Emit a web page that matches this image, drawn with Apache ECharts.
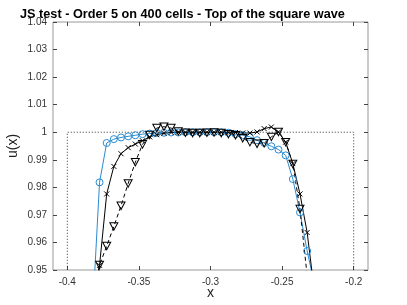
<!DOCTYPE html>
<html><head><meta charset="utf-8">
<script src="https://cdn.jsdelivr.net/npm/echarts@6/dist/echarts.min.js"></script>
<style>html,body{margin:0;padding:0;background:#fff}#c{width:407px;height:305px}</style>
</head><body><div id="c"></div>
<script>
var xs = [-0.3825,-0.3775,-0.3725,-0.3675,-0.3625,-0.3575,-0.3525,-0.3475,-0.3425,-0.3375,-0.3325,-0.3275,-0.3225,-0.3175,-0.3125,-0.3075,-0.3025,-0.2975,-0.2925,-0.2875,-0.2825,-0.2775,-0.2725,-0.2675,-0.2625,-0.2575,-0.2525,-0.2475,-0.2425,-0.2375,-0.2325,-0.2275,-0.2225];
var uCircle = [0.933,0.9818,0.9961,0.9975,0.9981,0.9985,0.9989,0.9993,0.9995,0.9997,0.9998,0.9999,0.9999,1.0,1.0,1.0,1.0,1.0,1.0,0.9998,0.9993,0.9989,0.9983,0.9971,0.9961,0.9949,0.9937,0.9916,0.983,0.9709,0.9569,0.945,0.93];
var uCross = [0.925,0.9517,0.9776,0.9876,0.9922,0.9944,0.9957,0.9969,0.9983,0.9991,0.9996,0.9999,1.0,1.0,1.0,1.0,1.0,1.0,1.0,1.0,0.9999,0.9997,0.9997,1.0001,1.0013,1.0019,1.0001,0.9964,0.9886,0.9776,0.9636,0.9425,0.92];
var uTri = [0.94,0.9518,0.9587,0.9658,0.9733,0.9814,0.9891,0.9956,0.9990,1.0015,1.0020,1.0015,1.0003,0.9998,0.9997,0.9997,0.9998,0.9999,0.9997,0.9993,0.9989,0.9978,0.9964,0.9958,0.9960,0.9983,1.0001,0.9964,0.9885,0.9721,0.948,0.92,0.90];
var exactX = [-0.4,-0.4,-0.2,-0.2];
var exactU = [0.9,1.0,1.0,0.9];
var xTicks = [-0.4,-0.35,-0.3,-0.25,-0.2];
var yTicks = [0.95,0.96,0.97,0.98,0.99,1.0,1.01,1.02,1.03,1.04];

function pairs(a,b){return a.map(function(v,i){return [v,b[i]];});}
var fnt = 'Liberation Sans, Arial, sans-serif';
var tickStyle = {show:true, inside:true, length:4, lineStyle:{color:'#444', width:1}};
function xAx(pos, labels){
  return {type:'value', position:pos, min:-0.41, max:-0.19,
    axisLine:{show:false}, splitLine:{show:false},
    axisTick:Object.assign({customValues:xTicks}, tickStyle),
    axisLabel:{show:labels, customValues:xTicks, margin:7, color:'#333', fontFamily:fnt, fontSize:10,
      formatter:function(v){return String(+v.toFixed(2));}},
    name: labels ? 'x' : '', nameLocation:'middle', nameGap:16, nameMoveOverlap:false,
    nameTextStyle:{color:'#222', fontFamily:fnt, fontSize:14}
  };
}
function yAx(pos, labels){
  return {type:'value', position:pos, min:0.95, max:1.04,
    axisLine:{show:false}, splitLine:{show:false},
    axisTick:Object.assign({customValues:yTicks}, tickStyle),
    axisLabel:{show:labels, customValues:yTicks, margin:6, color:'#333', fontFamily:fnt, fontSize:10,
      formatter:function(v){return String(+v.toFixed(2));}},
    name: labels ? 'u(x)' : '', nameLocation:'middle', nameGap:33, nameMoveOverlap:false,
    nameTextStyle:{color:'#222', fontFamily:fnt, fontSize:14}
  };
}
var chart = echarts.init(document.getElementById('c'), null, {renderer:'canvas'});
chart.setOption({
  animation:false,
  title:{text:'JS test - Order 5 on 400 cells - Top of the square wave', left:15, top:3,
    textStyle:{fontFamily:fnt, fontSize:12.7, fontWeight:'bold', color:'#000'}},
  grid:{left:53, right:39, top:22, bottom:35, show:true, borderColor:'#999', borderWidth:1,
    containLabel:false, outerBoundsMode:'none'},
  xAxis:[xAx('bottom', true), xAx('top', false)],
  yAxis:[yAx('left', true), yAx('right', false)],
  series:[
    {type:'line', data:pairs(exactX, exactU), symbol:'none', lineStyle:{color:'#333', width:1, type:[1,2]}},
    {type:'line', data:pairs(xs, uCircle), symbol:'circle', symbolSize:7,
      itemStyle:{color:'transparent', borderColor:'#2a8ad0', borderWidth:1},
      lineStyle:{color:'#2a8ad0', width:1}},
    {type:'line', data:pairs(xs, uCross), symbol:'path://M0 0L10 10M10 0L0 10', symbolSize:5,
      itemStyle:{color:'transparent', borderColor:'#000', borderWidth:1},
      lineStyle:{color:'#000', width:1}},
    {type:'line', data:pairs(xs, uTri), symbol:'triangle', symbolRotate:180, symbolSize:[8,7.5],
      itemStyle:{color:'transparent', borderColor:'#000', borderWidth:1},
      lineStyle:{color:'#000', width:1, type:[4,3]}}
  ]
});
</script></body></html>
